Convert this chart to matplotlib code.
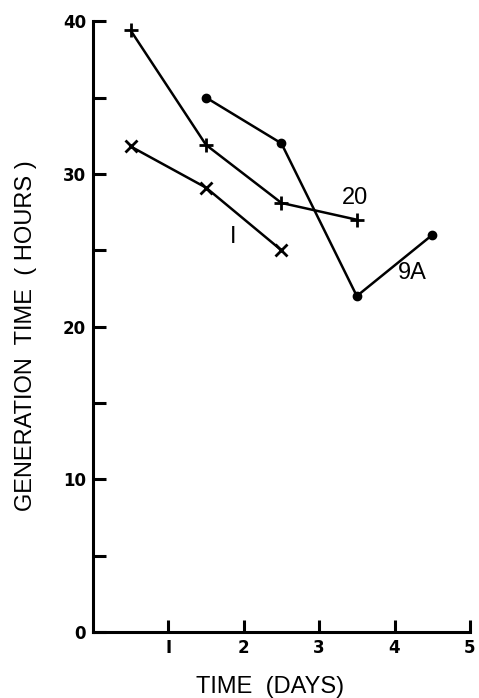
import matplotlib
matplotlib.use("Agg")
import matplotlib.pyplot as plt

plt.rcParams["font.family"] = ["Liberation Sans", "DejaVu Sans"]

# data
days = [0.5, 1.5, 2.5, 3.5, 4.5]
strain_20 = [39.4, 31.9, 28.1, 27.0]
strain_1 = [31.8, 29.1, 25.0]
strain_9a = [35.0, 32.0, 22.0, 26.0]

fig = plt.figure(figsize=(4.79, 6.98), dpi=100)
ax = fig.add_axes([0.194, 0.0946, 0.787, 0.875])

ax.plot(days[:4], strain_20, color="black", lw=1.8, marker="+", ms=10, mew=2)
ax.plot(days[:3], strain_1, color="black", lw=1.8, marker="x", ms=8, mew=2)
ax.plot(days[1:5], strain_9a, color="black", lw=1.8, marker="o", ms=6)

ax.text(3.48, 28.4, "20", fontsize=17, ha="center", va="center")
ax.text(1.86, 25.9, "I", fontsize=17, ha="center", va="center")
ax.text(4.23, 23.5, "9A", fontsize=17, ha="center", va="center")

ax.set_xlim(0, 5)
ax.set_ylim(0, 40)
ax.set_xticks([1, 2, 3, 4, 5])
ax.set_xticklabels(["I", "2", "3", "4", "5"])
ax.set_yticks([0, 10, 20, 30, 40])
ax.set_yticks([5, 15, 25, 35], minor=True)
ax.tick_params(direction="in", length=9, width=2.2, pad=5)
ax.tick_params(which="minor", direction="in", length=9, width=2.2)
for lab in ax.get_xticklabels() + ax.get_yticklabels():
    lab.set_family("DejaVu Sans")
    lab.set_fontweight("bold")
    lab.set_fontsize(12)
ax.spines["top"].set_visible(False)
ax.spines["right"].set_visible(False)
ax.spines["left"].set_linewidth(2.2)
ax.spines["bottom"].set_linewidth(2.2)

fig.text(0.564, 0.016, "TIME  (DAYS)", fontsize=17, ha="center", va="center")
fig.text(0.055, 0.519, "GENERATION  TIME  ( HOURS )", fontsize=17,
         rotation=90, ha="center", va="center")

fig.savefig("out.png", dpi=100)
